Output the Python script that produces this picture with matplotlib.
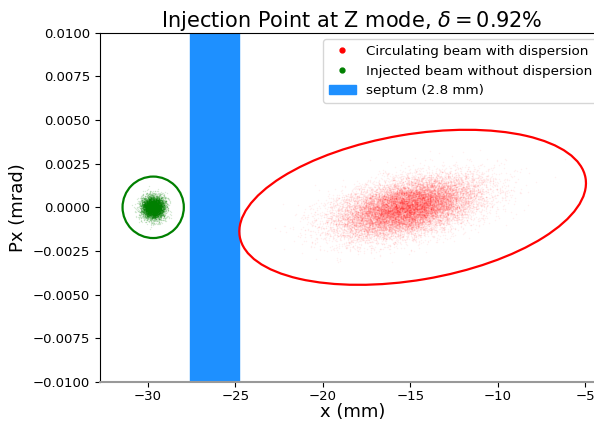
import numpy as np
import matplotlib.pyplot as plt
from matplotlib.patches import Ellipse, Patch
from matplotlib.lines import Line2D
from matplotlib.transforms import Affine2D

# beam parameters (x in mm, px in mrad)
circ_center = [-15.2, 0.0]
circ_sigma = [2.0, 0.00085]
circ_corr = 0.45
circ_count = 20000

inj_center = [-29.7, 0.0]
inj_sigma = [0.32, 0.00032]
inj_count = 6000

# acceptance ellipses: center x, center px, half width in x, half height in px, correlation
circ_ell = [-14.87, 0.0, 9.9, 0.00444, 0.311]
inj_ell = [-29.69, 0.0, 1.75, 0.00176, 0.0]

septum = [-27.6, -24.8]

# particle clouds (gaussian beams, fixed seed)
rng = np.random.default_rng(7)
cov_c = [[circ_sigma[0] ** 2, circ_corr * circ_sigma[0] * circ_sigma[1]],
         [circ_corr * circ_sigma[0] * circ_sigma[1], circ_sigma[1] ** 2]]
circ = rng.multivariate_normal(circ_center, cov_c, circ_count)
inj = rng.multivariate_normal(inj_center, np.diag(np.square(inj_sigma)), inj_count)

fig = plt.figure(figsize=(5.94, 4.22), dpi=100)
ax = fig.add_axes([0.168, 0.095, 0.85, 0.8275])

ax.axvspan(septum[0], septum[1], color='dodgerblue', zorder=1)
ax.scatter(circ[:, 0], circ[:, 1], s=1.2, color='red', alpha=0.06, lw=0, zorder=2)
ax.scatter(inj[:, 0], inj[:, 1], s=1.0, color='green', alpha=0.15, lw=0, zorder=2)

# draw ellipses in (mm, px*1000) space so the tilt is right
tr = Affine2D().scale(1, 1e-3) + ax.transData
for (x0, y0, a, b, c), col in [(circ_ell, 'red'), (inj_ell, 'green')]:
    b = b * 1e3
    S = np.array([[a * a, a * b * c], [a * b * c, b * b]])
    w, v = np.linalg.eigh(S)
    ang = np.degrees(np.arctan2(v[1, 1], v[0, 1]))
    ax.add_patch(Ellipse((x0, y0 * 1e3), 2 * np.sqrt(w[1]), 2 * np.sqrt(w[0]),
                         angle=ang, fill=False, color=col, lw=1.6, transform=tr, zorder=3))

ax.set_xlim(-32.74, -3.9)
ax.set_ylim(-0.01, 0.01)
ax.set_xticks([-30, -25, -20, -15, -10, -5])
ax.set_yticks(np.arange(-0.01, 0.0101, 0.0025))
ax.tick_params(labelsize=9.5)
ax.tick_params(axis='x', pad=2)
ax.spines['bottom'].set_color('#999999')
ax.spines['bottom'].set_linewidth(1.5)

ax.set_xlabel('x (mm)', fontsize=13, labelpad=0)
ax.set_ylabel('Px (mrad)', fontsize=13)
ax.set_title(r'Injection Point at Z mode, $\delta=0.92\%$', fontsize=15, pad=4)

handles = [Line2D([], [], marker='o', ls='', color='red', ms=3.5),
           Line2D([], [], marker='o', ls='', color='green', ms=3.5),
           Patch(color='dodgerblue')]
labels = ['Circulating beam with dispersion', 'Injected beam without dispersion',
          'septum (2.8 mm)']
ax.legend(handles, labels, loc='upper right', fontsize=9.7)

fig.savefig('out.png', dpi=100)
